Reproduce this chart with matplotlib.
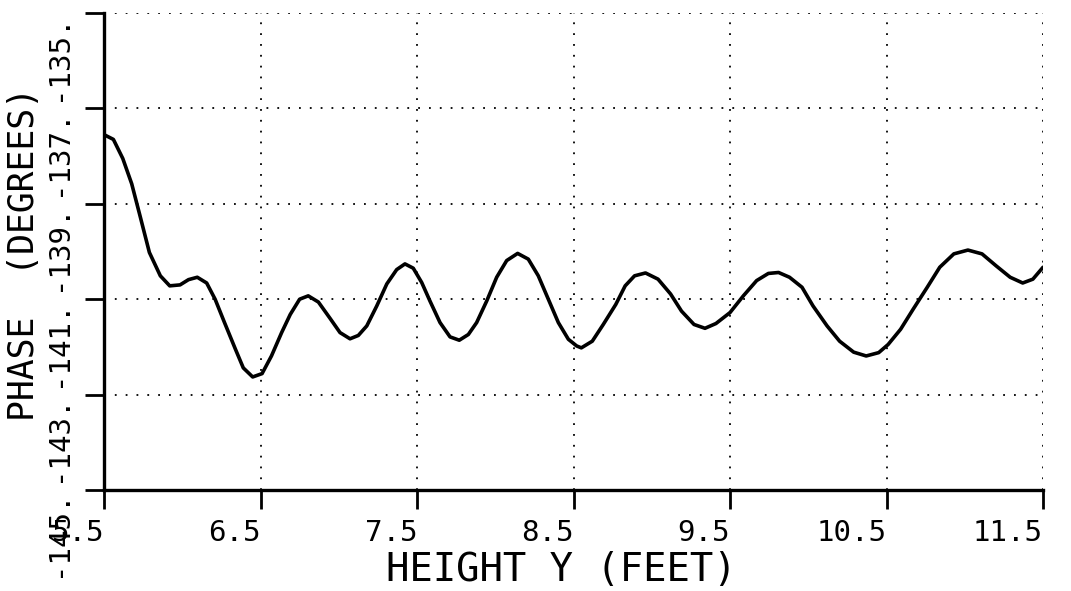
import matplotlib
matplotlib.use("Agg")
import matplotlib.pyplot as plt
import matplotlib.transforms as mtransforms

# height (feet) and phase (degrees)
height = [5.506, 5.56, 5.62, 5.677, 5.73, 5.79, 5.86, 5.92, 5.986, 6.04,
          6.096, 6.156, 6.21, 6.27, 6.34, 6.39, 6.45, 6.51, 6.57, 6.635,
          6.69, 6.75, 6.805, 6.87, 6.944, 7.008, 7.072, 7.125, 7.179, 7.243,
          7.307, 7.37, 7.423, 7.476, 7.53, 7.583, 7.647, 7.711, 7.77, 7.828,
          7.881, 7.945, 8.009, 8.073, 8.143, 8.211, 8.275, 8.339, 8.403, 8.467,
          8.52, 8.55, 8.62, 8.69, 8.77, 8.83, 8.89, 8.96, 9.04, 9.12,
          9.19, 9.27, 9.34, 9.41, 9.50, 9.585, 9.67, 9.745, 9.81, 9.88,
          9.96, 10.03, 10.12, 10.20, 10.29, 10.37, 10.45, 10.51, 10.59, 10.67,
          10.76, 10.84, 10.93, 11.02, 11.11, 11.20, 11.29, 11.37, 11.435, 11.50]
phase = [-137.56, -137.65, -138.05, -138.58, -139.25, -140.02, -140.51, -140.72, -140.70, -140.59,
         -140.54, -140.66, -141.00, -141.49, -142.05, -142.44, -142.63, -142.56, -142.19, -141.70,
         -141.32, -141.00, -140.93, -141.06, -141.40, -141.70, -141.83, -141.76, -141.56, -141.14,
         -140.68, -140.38, -140.26, -140.35, -140.65, -141.04, -141.49, -141.79, -141.86, -141.74,
         -141.49, -141.04, -140.54, -140.19, -140.04, -140.16, -140.51, -141.00, -141.49, -141.84,
         -141.98, -142.02, -141.88, -141.53, -141.11, -140.72, -140.51, -140.45, -140.58, -140.89,
         -141.25, -141.53, -141.61, -141.51, -141.28, -140.93, -140.61, -140.46, -140.44, -140.54,
         -140.75, -141.14, -141.56, -141.88, -142.11, -142.19, -142.12, -141.95, -141.63, -141.21,
         -140.75, -140.33, -140.05, -139.97, -140.05, -140.30, -140.54, -140.66, -140.58, -140.33]

xticks = [5.5, 6.5, 7.5, 8.5, 9.5, 10.5, 11.5]
xtick_labels = ["5.5", "6.5", "7.5", "8.5", "9.5", "10.5", "11.5"]
yticks = [-145, -143, -141, -139, -137, -135]
ytick_labels = ["-145.", "-143.", "-141.", "-139.", "-137.", "-135."]

plt.rcParams["font.family"] = "DejaVu Sans Mono"

fig = plt.figure(figsize=(10.71, 5.91), dpi=100)
ax = fig.add_axes([0.0971, 0.1709, 0.8768, 0.8071])

ax.plot(height, phase, color="black", lw=2.6, solid_joinstyle="round",
        solid_capstyle="round", zorder=3)

ax.set_xlim(5.5, 11.5)
ax.set_ylim(-145, -135)
ax.set_xticks(xticks)
ax.set_xticklabels(xtick_labels, fontsize=21)
ax.set_yticks(yticks)
ax.set_yticklabels(ytick_labels, fontsize=21)

# plotter style: x labels end a little right of the tick
shift = mtransforms.ScaledTranslation(22 / 100, 0, fig.dpi_scale_trans)
for lbl in ax.get_xticklabels():
    lbl.set_ha("right")
    lbl.set_transform(lbl.get_transform() + shift)
for lbl in ax.get_yticklabels():
    lbl.set_rotation(90)
    lbl.set_va("top")

ax.grid(True, color="black", lw=1.3, linestyle=(0, (1, 5)))
ax.spines["top"].set_visible(False)
ax.spines["right"].set_visible(False)
ax.spines["left"].set_linewidth(2.4)
ax.spines["bottom"].set_linewidth(2.4)
ax.tick_params(direction="out", length=14, width=2, pad=7)
ax.tick_params(axis="y", pad=9)

ax.set_xlabel("HEIGHT Y (FEET)", fontsize=28)
ax.xaxis.set_label_coords(0.487, -0.128)
ax.set_ylabel("PHASE  (DEGREES)", fontsize=25)
ax.yaxis.set_label_coords(-0.067, 0.495)

fig.savefig("out.png", dpi=100)
